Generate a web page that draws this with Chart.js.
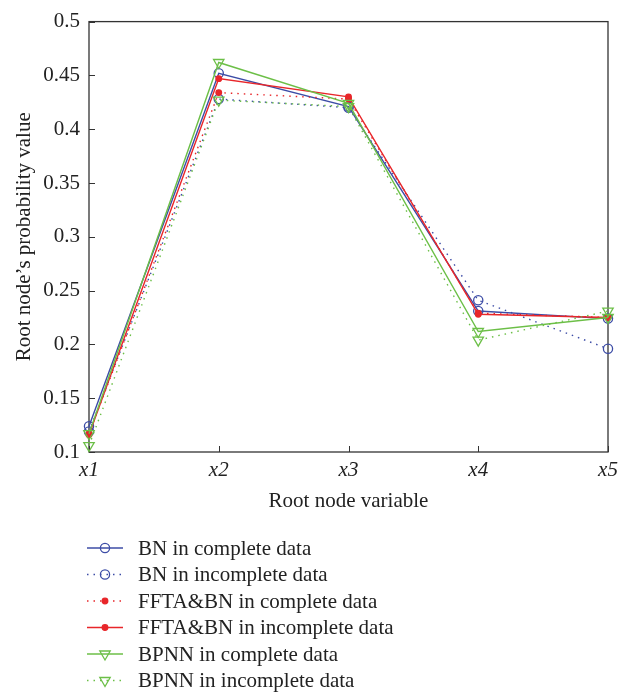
<!DOCTYPE html>
<html>
<head>
<meta charset="utf-8">
<script src="https://cdn.jsdelivr.net/npm/chart.js@4.4.1/dist/chart.umd.min.js"></script>
<style>
  body { margin: 0; background: #fff; }
  #wrap { width: 627px; height: 695px; }
</style>
</head>
<body>
<div id="wrap"><canvas id="rootChart" width="627" height="695"></canvas></div>
<script>
// data
const categories = ['x1', 'x2', 'x3', 'x4', 'x5'];
const yTicks = [0.1, 0.15, 0.2, 0.25, 0.3, 0.35, 0.4, 0.45, 0.5];

const bnComplete     = [0.124, 0.452, 0.421, 0.231, 0.224];
const bnIncomplete   = [0.119, 0.428, 0.420, 0.241, 0.196];
const fftaComplete   = [0.117, 0.434, 0.428, 0.229, 0.225];
const fftaIncomplete = [0.116, 0.447, 0.430, 0.228, 0.225];
const bpnnComplete   = [0.117, 0.462, 0.424, 0.212, 0.225];
const bpnnIncomplete = [0.106, 0.427, 0.421, 0.204, 0.231];

const blue = '#3c4ca6';
const red = '#e8262a';
const green = '#6cbf47';
const dotted = [1.5, 5];
const serif = '"Liberation Serif", "Times New Roman", serif';

function series(label, data, color, dash, style, order) {
  const filled = style === 'dot';
  return {
    label: label,
    data: data,
    borderColor: color,
    borderWidth: 1.4,
    borderDash: dash,
    tension: 0,
    fill: false,
    clip: false,
    order: order,
    pointStyle: style === 'tri' ? 'triangle' : 'circle',
    pointRotation: style === 'tri' ? 180 : 0,
    pointRadius: style === 'tri' ? 6 : (filled ? 2.8 : 4.6),
    pointBorderWidth: 1.3,
    pointBorderColor: color,
    pointBackgroundColor: filled ? color : 'rgba(0,0,0,0)'
  };
}

const datasets = [
  series('BN in complete data', bnComplete, blue, [], 'circle', 6),
  series('BN in incomplete data', bnIncomplete, blue, dotted, 'circle', 5),
  series('FFTA&BN in complete data', fftaComplete, red, dotted, 'dot', 4),
  series('FFTA&BN in incomplete data', fftaIncomplete, red, [], 'dot', 3),
  series('BPNN in complete data', bpnnComplete, green, [], 'tri', 2),
  series('BPNN in incomplete data', bpnnIncomplete, green, dotted, 'tri', 1)
];

// box + inward tick marks (matlab style)
const boxPlugin = {
  id: 'boxPlugin',
  beforeDatasetsDraw(chart) {
    const { ctx, chartArea: a, scales } = chart;
    ctx.save();
    ctx.strokeStyle = '#333';
    ctx.lineWidth = 1.3;
    ctx.strokeRect(a.left, a.top, a.right - a.left, a.bottom - a.top);
    ctx.lineWidth = 1;
    ctx.beginPath();
    yTicks.forEach(v => {
      const y = Math.round(scales.y.getPixelForValue(v)) + 0.5;
      ctx.moveTo(a.left, y); ctx.lineTo(a.left + 6, y);
    });
    categories.forEach((c, i) => {
      const x = Math.round(scales.x.getPixelForValue(i)) + 0.5;
      ctx.moveTo(x, a.bottom); ctx.lineTo(x, a.bottom - 6);
    });
    ctx.stroke();
    ctx.restore();
  }
};

// legend under the plot
const legendPlugin = {
  id: 'legendBelow',
  afterDraw(chart) {
    const ctx = chart.ctx;
    chart.data.datasets.forEach((ds, i) => {
      const y = 548 + i * 26.5;
      ctx.save();
      ctx.strokeStyle = ds.borderColor;
      ctx.lineWidth = 1.4;
      ctx.setLineDash(ds.borderDash);
      ctx.beginPath();
      ctx.moveTo(87, y);
      ctx.lineTo(123, y);
      ctx.stroke();
      ctx.setLineDash([]);
      ctx.fillStyle = ds.pointBackgroundColor;
      ctx.strokeStyle = ds.pointBorderColor;
      ctx.lineWidth = ds.pointBorderWidth;
      Chart.helpers.drawPoint(ctx, {
        pointStyle: ds.pointStyle,
        rotation: ds.pointRotation,
        radius: ds.pointRadius,
        borderWidth: ds.pointBorderWidth
      }, 105, y);
      ctx.fillStyle = '#222';
      ctx.font = '21px ' + serif;
      ctx.textBaseline = 'middle';
      ctx.textAlign = 'left';
      ctx.fillText(ds.label, 138, y + 1);
      ctx.restore();
    });
  }
};

new Chart(document.getElementById('rootChart'), {
  type: 'line',
  data: { labels: categories, datasets: datasets },
  options: {
    responsive: false,
    animation: false,
    layout: { padding: { left: 0, right: 19, top: 10, bottom: 181 } },
    plugins: {
      legend: { display: false },
      tooltip: { enabled: false }
    },
    scales: {
      x: {
        offset: false,
        grid: { display: false, drawTicks: false },
        border: { display: false },
        ticks: {
          color: '#222',
          padding: 6,
          maxRotation: 0,
          autoSkip: false,
          font: { family: serif, size: 21, style: 'italic' }
        },
        title: {
          display: true,
          text: 'Root node variable',
          color: '#222',
          padding: { top: 0, bottom: 0 },
          font: { family: serif, size: 21 }
        },
        afterFit(scale) { scale.height = 62; }
      },
      y: {
        min: 0.1,
        max: 0.5,
        grid: { display: false, drawTicks: false },
        border: { display: false },
        afterBuildTicks(scale) {
          scale.ticks = yTicks.map(v => ({ value: v }));
        },
        ticks: {
          color: '#222',
          padding: 9,
          font: { family: serif, size: 21 },
          callback: v => String(+v.toFixed(2))
        },
        title: {
          display: true,
          text: 'Root node\u2019s probability value',
          color: '#222',
          padding: { top: 12, bottom: 0 },
          font: { family: serif, size: 21 }
        },
        afterFit(scale) { scale.width = 89; }
      }
    }
  },
  plugins: [boxPlugin, legendPlugin]
});
</script>
</body>
</html>
